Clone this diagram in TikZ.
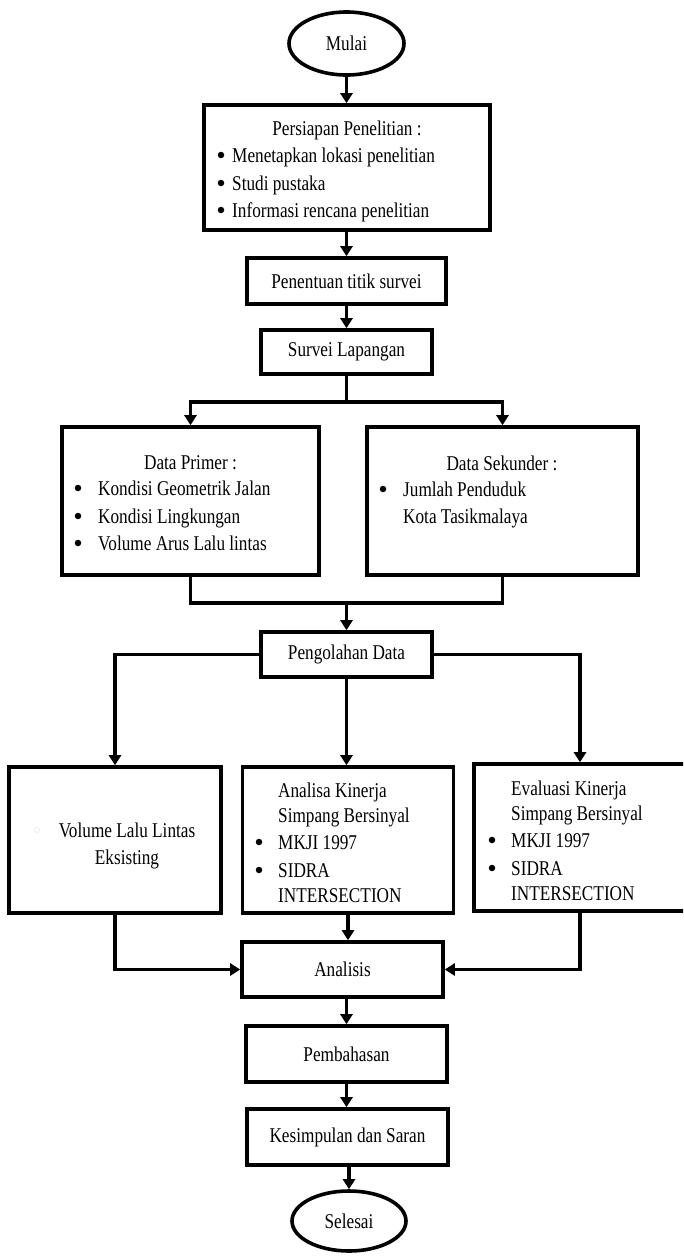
\documentclass[tikz,border=0pt]{standalone}
\usepackage{fontspec}
\setmainfont{Liberation Serif}[FakeStretch=0.82]
\usetikzlibrary{arrows.meta,shapes.geometric}
\begin{document}
\begin{tikzpicture}[x=1pt,y=-1pt,
  font=\fontsize{21}{27}\selectfont,
  box/.style={draw, line width=3.6pt, rectangle, inner sep=0pt},
  oval/.style={draw, line width=3.6pt, ellipse, inner sep=0pt},
  link/.style={line width=3.4pt},
  arr/.style={link, -{Triangle[width=12pt,length=10pt]}},
  txt/.style={anchor=base west, inner sep=0pt},
  ctxt/.style={anchor=base, inner sep=0pt},
  dot/.style={circle, fill=black, inner sep=0pt, minimum size=6.5pt}]
\clip (0,0) rectangle (683,1256);
\fill[white] (0,0) rectangle (683,1256);

% nodes
\node[oval, minimum width=115pt, minimum height=63pt] (mulai) at (346.5,43.5) {Mulai};
\node[box, minimum width=286pt, minimum height=125pt] (prep) at (347,167.5) {};
\node[box, minimum width=199pt, minimum height=46pt] (tentu) at (346.5,281) {Penentuan titik survei};
\node[box, minimum width=171pt, minimum height=44pt] (survei) at (346.5,352) {Survei Lapangan};
\node[box, minimum width=257pt, minimum height=148pt] (primer) at (190.5,501) {};
\node[box, minimum width=271pt, minimum height=148pt] (sekunder) at (502.5,501) {};
\node[box, minimum width=171pt, minimum height=45pt] (peng) at (346.5,654.5) {Pengolahan Data};
\node[box, minimum width=212pt, minimum height=146pt] (vol) at (115,840) {};
\node[box, minimum width=211pt, minimum height=146pt] (mid) at (348,840) {};
\node[box, minimum width=212pt, minimum height=147pt] (eval) at (580,837.5) {};
\node[box, minimum width=201pt, minimum height=55pt] (ana) at (342.5,969.5) {Analisis};
\node[box, minimum width=201pt, minimum height=56pt] (pemb) at (346.5,1054) {Pembahasan};
\node[box, minimum width=201pt, minimum height=56pt] (kes) at (347.5,1137) {Kesimpulan dan Saran};
\node[oval, minimum width=114pt, minimum height=60pt] (sel) at (349,1221) {Selesai};

% texts in Persiapan
\node[ctxt] (prep0) at (347,135) {Persiapan Penelitian :};
\node[dot] (prepb1) at (221,155) {};
\node[txt] (prep1) at (232,162) {Menetapkan lokasi penelitian};
\node[dot] (prepb2) at (221,183) {};
\node[txt] (prep2) at (232,190) {Studi pustaka};
\node[dot] (prepb3) at (221,210) {};
\node[txt] (prep3) at (232,217) {Informasi rencana penelitian};

% Data Primer
\node[ctxt] (pri0) at (190.5,469) {Data Primer :};
\node[dot] (prib1) at (78,488) {};
\node[txt] (pri1) at (98,495) {Kondisi Geometrik Jalan};
\node[dot] (prib2) at (78,516) {};
\node[txt] (pri2) at (98,523) {Kondisi Lingkungan};
\node[dot] (prib3) at (78,543) {};
\node[txt] (pri3) at (98,550) {Volume Arus Lalu lintas};

% Data Sekunder
\node[ctxt] (sek0) at (502,470) {Data Sekunder :};
\node[dot] (sekb1) at (383,489) {};
\node[txt] (sek1) at (403,496) {Jumlah Penduduk};
\node[txt] (sek2) at (403,523) {Kota Tasikmalaya};

% Volume
\draw[gray!18, line width=0.6pt] (37,830) circle (2.5pt);
\node[ctxt] (vol1) at (127,837) {Volume Lalu Lintas};
\node[ctxt] (vol2) at (127,864) {Eksisting};

% Analisa
\node[txt] (mid1) at (278,797) {Analisa Kinerja};
\node[txt] (mid2) at (278,822) {Simpang Bersinyal};
\node[dot] (midb3) at (259,842) {};
\node[txt] (mid3) at (278,849) {MKJI 1997};
\node[dot] (midb4) at (259,870) {};
\node[txt] (mid4) at (278,877) {SIDRA};
\node[txt] (mid5) at (278,902) {INTERSECTION};

% Evaluasi
\node[txt] (ev1) at (511,795) {Evaluasi Kinerja};
\node[txt] (ev2) at (511,820) {Simpang Bersinyal};
\node[dot] (evb3) at (492,840) {};
\node[txt] (ev3) at (511,847) {MKJI 1997};
\node[dot] (evb4) at (492,868) {};
\node[txt] (ev4) at (511,875) {SIDRA};
\node[txt] (ev5) at (511,900) {INTERSECTION};

% connectors
\coordinate (split) at (346.5,402);
\coordinate (merge) at (346.5,603);
\draw[arr] (mulai.south) -- (mulai.south |- prep.north);
\draw[arr] (tentu.north |- prep.south) -- (tentu.north);
\draw[arr] (tentu.south) -- (tentu.south |- survei.north);
\draw[link] (survei.south) -- (split);
\draw[arr] (split) -| (primer.north);
\draw[arr] (split) -| (sekunder.north);
\draw[link] (primer.south) |- (merge) -| (sekunder.south);
\draw[arr] (merge) -- (merge |- peng.north);
\draw[arr] (peng.west) -| (vol.north);
\draw[arr] (peng.east) -| (eval.north);
\draw[arr] (peng.south) -- (peng.south |- mid.north);
\draw[arr] (vol.south) |- (ana.west);
\draw[arr] (eval.south) |- (ana.east);
\draw[arr] (mid.south) -- (mid.south |- ana.north);
\draw[arr] (pemb.north |- ana.south) -- (pemb.north);
\draw[arr] (pemb.south) -- (pemb.south |- kes.north);
\draw[arr] (sel.north |- kes.south) -- (sel.north);
\end{tikzpicture}
\end{document}
